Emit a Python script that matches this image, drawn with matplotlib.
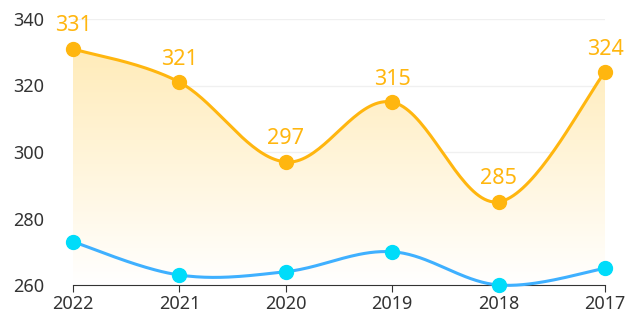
import matplotlib.pyplot as plt
import numpy as np
from matplotlib.path import Path
from matplotlib.patches import PathPatch

# Data
years = ['2022', '2021', '2020', '2019', '2018', '2017']
series_top = [331, 321, 297, 315, 285, 324]
series_bottom = [273, 263, 264, 270, 260, 265]
y_ticks = [260, 280, 300, 320, 340]

plt.rcParams['font.family'] = ['Noto Sans', 'DejaVu Sans']


def smooth_curve(x, y, n=40, k=0.35):
    # bezier smoothing similar to echarts smooth lines
    x = np.asarray(x, float)
    y = np.asarray(y, float)
    pts = np.column_stack([x, y])
    out = []
    for i in range(len(pts) - 1):
        p0 = pts[max(i - 1, 0)]
        p1 = pts[i]
        p2 = pts[i + 1]
        p3 = pts[min(i + 2, len(pts) - 1)]
        c1 = p1 + (p2 - p0) * k / 2 * (1 if i > 0 else 0) + ((p2 - p1) * k / 2 if i == 0 else 0)
        c2 = p2 - (p3 - p1) * k / 2 * (1 if i + 2 < len(pts) else 0) - ((p2 - p1) * k / 2 if i + 2 >= len(pts) else 0)
        t = np.linspace(0, 1, n)[:, None]
        seg = (1 - t) ** 3 * p1 + 3 * (1 - t) ** 2 * t * c1 + 3 * (1 - t) * t ** 2 * c2 + t ** 3 * p2
        out.append(seg if i == 0 else seg[1:])
    out = np.vstack(out)
    return out[:, 0], out[:, 1]


fig = plt.figure(figsize=(6.33, 3.24), dpi=100)
ax = fig.add_axes([73 / 633, 39 / 324, 532 / 633, 266 / 324])

xs = np.arange(len(years))
ax.set_xlim(0, len(years) - 1)
ax.set_ylim(260, 340)

yellow = '#FFB60F'
blue_line = '#3FB0FF'
blue_dot = '#00DCFA'

# gradient fill under the yellow line
sx, sy = smooth_curve(xs, series_top)
verts = np.vstack([np.column_stack([sx, sy]), [[sx[-1], 260], [sx[0], 260]]])
clip = PathPatch(Path(verts), facecolor='none', edgecolor='none')
ax.add_patch(clip)
grad = np.linspace(0, 1, 256)[:, None]
cmap = plt.matplotlib.colors.LinearSegmentedColormap.from_list(
    'fade', ['#FFFFFF', '#FFE9B0'])
im = ax.imshow(grad, extent=[0, len(years) - 1, 260, 340], origin='lower',
               aspect='auto', cmap=cmap, zorder=1)
im.set_clip_path(clip)

ax.plot(sx, sy, color=yellow, lw=2.2, zorder=3)
ax.plot(xs, series_top, 'o', color=yellow, ms=10, zorder=4, clip_on=False)

bx, by = smooth_curve(xs, series_bottom)
ax.plot(bx, by, color=blue_line, lw=2.2, zorder=3, clip_on=False)
ax.plot(xs, series_bottom, 'o', color=blue_dot, ms=10, zorder=4, clip_on=False)

for x, v in zip(xs, series_top):
    ax.annotate(str(v), (x, v), xytext=(0, 9), textcoords='offset points',
                ha='center', va='bottom', color=yellow, fontsize=15.5)

# axes styling
ax.set_xticks(xs)
ax.set_xticklabels(years)
ax.set_yticks(y_ticks)
ax.grid(axis='y', color='#F0F0F0', lw=1, zorder=0)
ax.set_axisbelow(True)
for side in ['top', 'right', 'left']:
    ax.spines[side].set_visible(False)
ax.spines['bottom'].set_color('#333333')
ax.tick_params(axis='y', length=0, labelsize=13, labelcolor='#333333', pad=21)
ax.tick_params(axis='x', length=5, color='#333333', labelsize=13,
               labelcolor='#333333', pad=2)

fig.savefig('out.png', dpi=100)
